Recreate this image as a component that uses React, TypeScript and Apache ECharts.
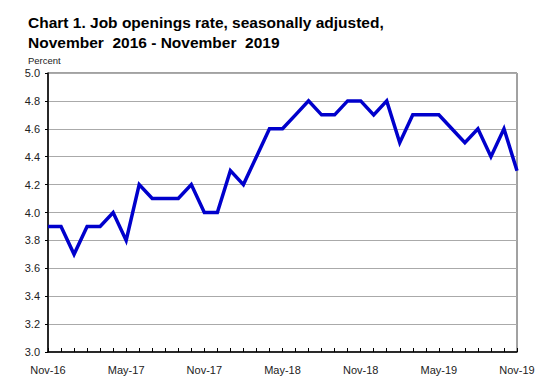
import React, { useEffect, useRef } from "react";
import * as echarts from "echarts";

const categories: string[] = [
  "Nov-16", "Dec-16",
  "Jan-17", "Feb-17", "Mar-17", "Apr-17", "May-17", "Jun-17", "Jul-17", "Aug-17", "Sep-17", "Oct-17", "Nov-17", "Dec-17",
  "Jan-18", "Feb-18", "Mar-18", "Apr-18", "May-18", "Jun-18", "Jul-18", "Aug-18", "Sep-18", "Oct-18", "Nov-18", "Dec-18",
  "Jan-19", "Feb-19", "Mar-19", "Apr-19", "May-19", "Jun-19", "Jul-19", "Aug-19", "Sep-19", "Oct-19", "Nov-19",
];
const rates: number[] = [
  3.9, 3.9,
  3.7, 3.9, 3.9, 4.0, 3.8, 4.2, 4.1, 4.1, 4.1, 4.2, 4.0, 4.0,
  4.3, 4.2, 4.4, 4.6, 4.6, 4.7, 4.8, 4.7, 4.7, 4.8, 4.8, 4.7,
  4.8, 4.5, 4.7, 4.7, 4.7, 4.6, 4.5, 4.6, 4.4, 4.6, 4.3,
];

const titleText = "Chart 1. Job openings rate, seasonally adjusted,\nNovember  2016 - November  2019";
const unitText = "Percent";

export default function App() {
  const ref = useRef<HTMLDivElement>(null);
  useEffect(() => {
    if (!ref.current) return;
    const chart = echarts.init(ref.current, null, { renderer: "svg" });
    chart.setOption({
      animation: false,
      backgroundColor: "#fff",
      title: {
        text: titleText,
        left: 23,
        top: 7,
        textStyle: {
          fontFamily: "Liberation Sans, Arial, sans-serif",
          fontWeight: "bold",
          fontSize: 15.5,
          lineHeight: 20,
          color: "#000",
        },
      },
      graphic: [
        {
          type: "text",
          left: 28,
          top: 55,
          style: { text: unitText, fontSize: 9.5, fontFamily: "Liberation Sans, Arial, sans-serif", fill: "#222" },
        },
      ],
      grid: {
        left: 48,
        right: 23,
        top: 73,
        bottom: 37,
        show: true,
        borderColor: "#444",
        borderWidth: 1,
      },
      xAxis: {
        type: "category",
        data: categories,
        boundaryGap: false,
        axisLine: { lineStyle: { color: "#000", width: 1.5 } },
        axisTick: { show: true, inside: true, length: 4, interval: 0, lineStyle: { color: "#000" } },
        axisLabel: {
          interval: 5,
          fontSize: 11,
          color: "#222",
          margin: 12,
          fontFamily: "Liberation Sans, Arial, sans-serif",
        },
        splitLine: { show: false },
      },
      yAxis: {
        type: "value",
        min: 3,
        max: 5,
        interval: 0.2,
        axisLine: { show: true, lineStyle: { color: "#000", width: 1.5 } },
        axisTick: { show: true, length: 3, lineStyle: { color: "#000" } },
        axisLabel: {
          formatter: (v: number) => v.toFixed(1),
          fontSize: 11,
          color: "#222",
          margin: 8,
          fontFamily: "Liberation Sans, Arial, sans-serif",
        },
        splitLine: { show: true, lineStyle: { color: "#aaa", width: 1 } },
      },
      series: [
        {
          type: "line",
          data: rates,
          symbol: "none",
          lineStyle: { color: "#0000CC", width: 3.5, join: "miter" },
        },
      ],
    });
    return () => chart.dispose();
  }, []);
  return <div ref={ref} style={{ position: "absolute", left: 0, top: 0, width: 540, height: 389 }} />;
}
